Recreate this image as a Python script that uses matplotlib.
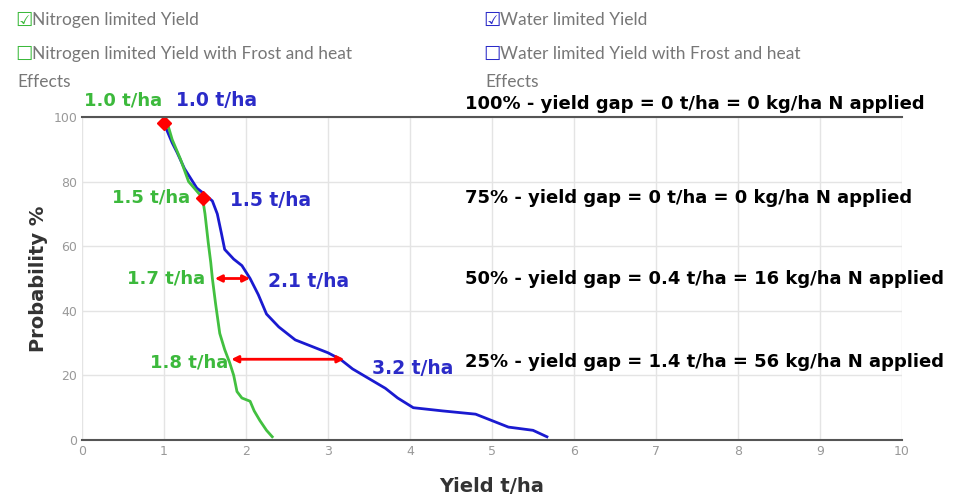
import matplotlib.pyplot as plt

# curves
blue_x = [1.0, 1.05, 1.1, 1.16, 1.25, 1.4, 1.5, 1.59, 1.65, 1.7, 1.74, 1.85, 1.95, 2.05, 2.15, 2.25, 2.4, 2.6, 2.8, 3.0, 3.15, 3.3, 3.5, 3.7, 3.85, 4.04, 4.4, 4.8, 5.0, 5.2, 5.5, 5.67]
blue_y = [98, 95, 92, 89, 84, 78, 76, 74, 70, 64, 59, 56, 54, 50, 45, 39, 35, 31, 29, 27, 25, 22, 19, 16, 13, 10, 9, 8, 6, 4, 3, 1]
green_x = [1.03, 1.1, 1.2, 1.3, 1.47, 1.5, 1.54, 1.57, 1.59, 1.63, 1.68, 1.74, 1.8, 1.85, 1.89, 1.95, 2.05, 2.1, 2.17, 2.25, 2.32]
green_y = [99, 93, 87, 80, 75, 70, 61, 55, 50, 42, 33, 28, 24, 20, 15, 13, 12, 9, 6, 3, 1]

markers = [(1.0, 98), (1.47, 75)]
arrows = [(1.62, 2.05, 50), (1.82, 3.2, 25)]
green_labels = [("1.0 t/ha", 0.98, 105), ("1.5 t/ha", 1.32, 75), ("1.7 t/ha", 1.5, 50), ("1.8 t/ha", 1.78, 24)]
blue_labels = [("1.0 t/ha", 1.15, 105), ("1.5 t/ha", 1.8, 74), ("2.1 t/ha", 2.27, 49), ("3.2 t/ha", 3.54, 22)]
gap_texts = ["100% - yield gap = 0 t/ha = 0 kg/ha N applied",
             "75% - yield gap = 0 t/ha = 0 kg/ha N applied",
             "50% - yield gap = 0.4 t/ha = 16 kg/ha N applied",
             "25% - yield gap = 1.4 t/ha = 56 kg/ha N applied"]
gap_y = [104, 75, 50, 24]

green = '#3cb93c'
blue = '#2b2bc8'
fig = plt.figure(figsize=(9.67, 4.99), dpi=100)
ax = fig.add_axes([82/967, 1-440/499, 820/967, 323/499])
ax.plot(blue_x, blue_y, color='#1a1ad0', lw=2)
ax.plot(green_x, green_y, color='#42c040', lw=2)
for x, y in markers:
    ax.plot(x, y, marker='D', color='red', ms=7, clip_on=False)
for x0, x1, y in arrows:
    ax.annotate('', xy=(x1, y), xytext=(x0, y),
                arrowprops=dict(arrowstyle='<|-|>', color='red', lw=2, mutation_scale=10, shrinkA=0, shrinkB=0))
for t, x, y in green_labels:
    ax.text(x, y, t, color=green, fontsize=13, fontweight='bold', va='center', ha='right', clip_on=False)
for t, x, y in blue_labels:
    ax.text(x, y, t, color=blue, fontsize=13.5, fontweight='bold', va='center', ha='left', clip_on=False)
for t, y in zip(gap_texts, gap_y):
    ax.text(4.67, y, t, fontsize=13, fontweight='bold', va='center', clip_on=False)

ax.set_xlim(0, 10)
ax.set_ylim(0, 100)
ax.set_xticks(range(11))
ax.set_yticks(range(0, 101, 20))
ax.grid(True, color='#e4e4e4', lw=1)
ax.tick_params(colors='#999999', labelsize=9, length=0)
for s in ['left', 'right']:
    ax.spines[s].set_visible(False)
for s in ['top', 'bottom']:
    ax.spines[s].set_color('#555555')
    ax.spines[s].set_linewidth(1.5)
ax.set_ylabel('Probability %', fontsize=14, fontweight='bold', color='#333333')
ax.set_xlabel('Yield t/ha', fontsize=14, fontweight='bold', color='#333333', labelpad=14)

# legend
leg = [("☑", green, "Nitrogen limited Yield", 15, 20), ("☐", green, "Nitrogen limited Yield with Frost and heat", 15, 54),
       ("☑", blue, "Water limited Yield", 483, 20), ("☐", blue, "Water limited Yield with Frost and heat", 483, 54)]
for box, c, t, px, py in leg:
    fig.text(px/967, 1-py/499, box, color=c, fontsize=14, fontweight='bold', va='center')
    fig.text((px+17)/967, 1-py/499, t, color='#777777', fontsize=12.5, va='center', family='Lato')
fig.text(17/967, 1-82/499, "Effects", color='#777777', fontsize=12.5, va='center', family='Lato')
fig.text(485/967, 1-82/499, "Effects", color='#777777', fontsize=12.5, va='center', family='Lato')

fig.savefig('out.png')
